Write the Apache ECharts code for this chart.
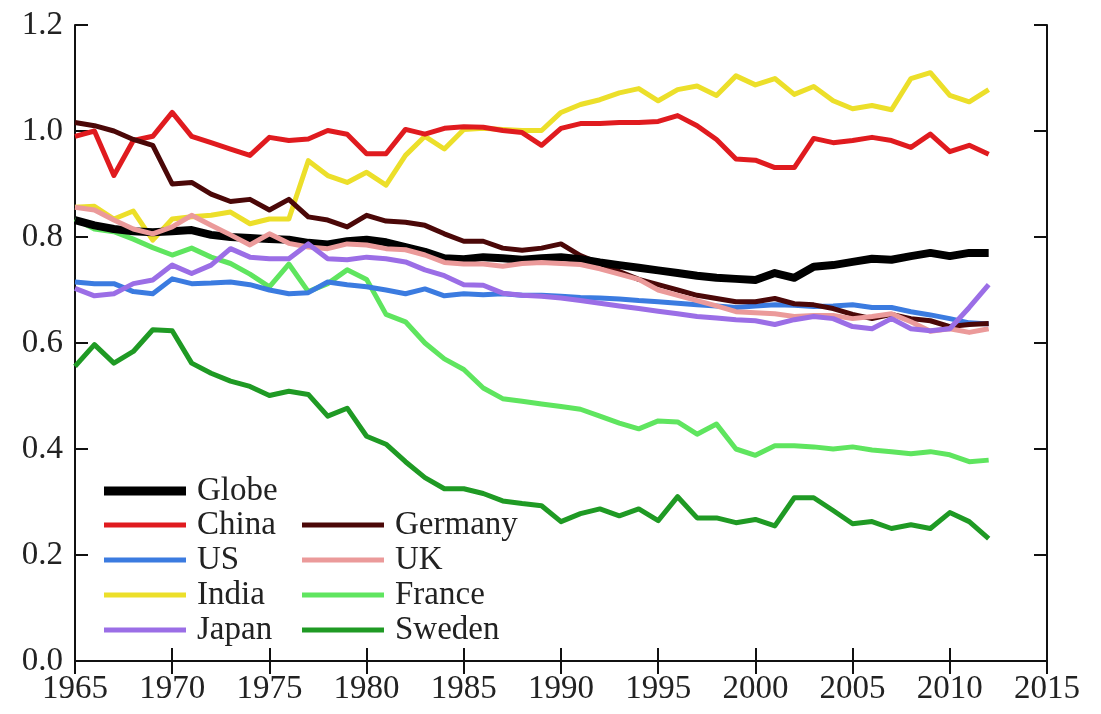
<!DOCTYPE html>
<html>
<head>
<meta charset="utf-8">
<script src="https://cdn.jsdelivr.net/npm/echarts@6/dist/echarts.min.js"></script>
<style>
html,body{margin:0;padding:0;background:#fff;}
#chart{width:1101px;height:714px;}
</style>
</head>
<body>
<div id="chart"></div>
<script>
const years = [1965,1966,1967,1968,1969,1970,1971,1972,1973,1974,1975,1976,1977,1978,1979,1980,1981,1982,1983,1984,1985,1986,1987,1988,1989,1990,1991,1992,1993,1994,1995,1996,1997,1998,1999,2000,2001,2002,2003,2004,2005,2006,2007,2008,2009,2010,2011,2012];

const globe = [0.832,0.822,0.815,0.811,0.809,0.811,0.813,0.804,0.800,0.798,
  0.796,0.795,0.789,0.786,0.792,0.795,0.790,0.781,0.772,0.760,
  0.758,0.762,0.760,0.757,0.760,0.762,0.758,0.752,0.747,0.742,
  0.737,0.732,0.727,0.723,0.721,0.719,0.732,0.723,0.744,0.747,
  0.753,0.759,0.757,0.764,0.770,0.764,0.770,0.770];
const china = [0.990,1.000,0.916,0.982,0.990,1.035,0.990,0.978,0.966,0.954,
  0.988,0.982,0.985,1.001,0.994,0.957,0.957,1.003,0.994,1.005,
  1.008,1.007,1.001,0.997,0.973,1.005,1.014,1.014,1.016,1.016,
  1.018,1.029,1.010,0.984,0.947,0.945,0.931,0.931,0.986,0.978,
  0.982,0.988,0.982,0.969,0.994,0.961,0.973,0.956];
const us = [0.715,0.712,0.712,0.697,0.693,0.721,0.712,0.713,0.715,0.710,
  0.700,0.693,0.695,0.715,0.710,0.706,0.700,0.693,0.702,0.689,
  0.693,0.691,0.693,0.690,0.690,0.688,0.686,0.685,0.683,0.680,
  0.678,0.675,0.672,0.670,0.667,0.670,0.672,0.671,0.669,0.670,
  0.672,0.667,0.667,0.659,0.653,0.646,0.638,0.636];
const india = [0.856,0.858,0.834,0.849,0.794,0.834,0.838,0.841,0.847,0.825,
  0.834,0.834,0.944,0.916,0.903,0.922,0.898,0.954,0.990,0.966,
  1.003,1.005,1.003,1.001,1.001,1.035,1.050,1.059,1.072,1.080,
  1.057,1.078,1.085,1.067,1.104,1.087,1.099,1.069,1.084,1.057,
  1.042,1.048,1.040,1.099,1.110,1.067,1.055,1.078];
const japan = [0.703,0.689,0.693,0.712,0.719,0.747,0.731,0.747,0.778,0.762,
  0.759,0.759,0.787,0.759,0.757,0.762,0.759,0.753,0.738,0.727,
  0.710,0.709,0.694,0.690,0.688,0.685,0.680,0.675,0.670,0.665,
  0.660,0.655,0.650,0.647,0.644,0.642,0.635,0.644,0.650,0.646,
  0.631,0.627,0.646,0.627,0.623,0.627,0.667,0.710];
const germany = [1.016,1.010,1.000,0.984,0.973,0.900,0.903,0.881,0.867,0.871,
  0.851,0.871,0.838,0.832,0.819,0.841,0.830,0.828,0.822,0.806,
  0.792,0.792,0.779,0.775,0.779,0.787,0.765,0.750,0.735,0.720,
  0.710,0.700,0.690,0.684,0.678,0.678,0.684,0.674,0.672,0.665,
  0.654,0.646,0.654,0.646,0.642,0.631,0.635,0.637];
const uk = [0.856,0.851,0.832,0.815,0.806,0.819,0.841,0.822,0.804,0.785,
  0.806,0.788,0.781,0.778,0.787,0.785,0.778,0.776,0.766,0.752,
  0.749,0.749,0.745,0.750,0.752,0.750,0.748,0.740,0.730,0.720,
  0.700,0.690,0.680,0.670,0.659,0.657,0.655,0.650,0.652,0.652,
  0.646,0.650,0.655,0.640,0.622,0.627,0.620,0.627];
const france = [0.834,0.815,0.810,0.796,0.780,0.766,0.779,0.762,0.750,0.730,
  0.706,0.749,0.697,0.712,0.738,0.720,0.654,0.640,0.600,0.570,
  0.550,0.515,0.495,0.490,0.485,0.480,0.475,0.462,0.449,0.438,
  0.453,0.451,0.428,0.447,0.400,0.388,0.406,0.406,0.404,0.400,
  0.404,0.398,0.395,0.391,0.395,0.389,0.376,0.379];
const sweden = [0.556,0.597,0.562,0.584,0.625,0.623,0.562,0.543,0.528,0.518,
  0.501,0.509,0.503,0.462,0.477,0.424,0.409,0.376,0.346,0.325,
  0.325,0.316,0.302,0.297,0.293,0.263,0.278,0.287,0.274,0.287,
  0.265,0.310,0.270,0.270,0.261,0.267,0.255,0.308,0.308,0.284,
  0.259,0.263,0.250,0.257,0.250,0.280,0.263,0.231];

const legendCol0 = ['Globe'];
const legendCol1 = ['China','US','India','Japan'];
const legendCol2 = ['Germany','UK','France','Sweden'];

const FONT = "'Times New Roman', 'Liberation Serif', 'DejaVu Serif', serif";

function pairs(vals){ return years.map((y,i)=>[y, vals[i]]); }

const seriesDefs = [
  {name:'Sweden', data:sweden, color:'#1f9a24', w:5},
  {name:'France', data:france, color:'#5fe55f', w:5},
  {name:'US', data:us, color:'#3b7be0', w:5},
  {name:'India', data:india, color:'#ecdf2a', w:5},
  {name:'China', data:china, color:'#e01b1f', w:5},
  {name:'Germany', data:germany, color:'#4b0808', w:5},
  {name:'Globe', data:globe, color:'#000000', w:8},
  {name:'UK', data:uk, color:'#eb9a9a', w:5},
  {name:'Japan', data:japan, color:'#9b6ee6', w:5}
];

const legendText = {fontFamily: FONT, fontSize: 33, color:'#222', lineHeight: 34, padding:[0,0,0,6]};

const option = {
  animation: false,
  backgroundColor: '#fff',
  textStyle: {fontFamily: FONT},
  grid: {left: 75, right: 54, top: 25, bottom: 53, containLabel: false},
  legend: [
    {data: legendCol0, orient:'vertical', left: 104, top: 474, icon:'rect', itemWidth: 82, itemHeight: 9, itemGap: 0, textStyle: legendText, padding:0},
    {data: legendCol1, orient:'vertical', left: 104, top: 508, icon:'rect', itemWidth: 82, itemHeight: 5, itemGap: 1, textStyle: legendText, padding:0},
    {data: legendCol2, orient:'vertical', left: 302, top: 508, icon:'rect', itemWidth: 82, itemHeight: 5, itemGap: 1, textStyle: legendText, padding:0}
  ],
  xAxis: [
    {type:'value', min:1965, max:2015, interval:5, position:'bottom',
     axisLine:{show:true, lineStyle:{color:'#111', width:2}},
     axisTick:{show:true, inside:true, length:13, lineStyle:{color:'#111', width:2}},
     axisLabel:{fontFamily:FONT, fontSize:33, color:'#222', margin:12, formatter: v => String(v)},
     splitLine:{show:false}},
    {type:'value', min:1965, max:2015, interval:5, position:'top',
     axisLine:{show:true, lineStyle:{color:'#111', width:2}},
     axisTick:{show:true, inside:true, length:13, lineStyle:{color:'#111', width:2}},
     axisLabel:{show:false}, splitLine:{show:false}}
  ],
  yAxis: [
    {type:'value', min:0, max:1.2, interval:0.2, position:'left',
     axisLine:{show:true, lineStyle:{color:'#111', width:2}},
     axisTick:{show:true, inside:true, length:13, lineStyle:{color:'#111', width:2}},
     axisLabel:{fontFamily:FONT, fontSize:33, color:'#222', margin:12, formatter: v => v.toFixed(1)},
     splitLine:{show:false}},
    {type:'value', min:0, max:1.2, interval:0.2, position:'right',
     axisLine:{show:true, lineStyle:{color:'#111', width:2}},
     axisTick:{show:true, inside:true, length:13, lineStyle:{color:'#111', width:2}},
     axisLabel:{show:false}, splitLine:{show:false}}
  ],
  series: seriesDefs.map(s => ({
    name: s.name, type:'line', xAxisIndex:0, yAxisIndex:0,
    data: pairs(s.data), showSymbol:false, symbol:'none', smooth:false,
    color: s.color,
    lineStyle:{color:s.color, width:s.w, join:'round'},
    itemStyle:{color:s.color}
  }))
};

const chart = echarts.init(document.getElementById('chart'), null, {renderer:'canvas'});
chart.setOption(option);
</script>
</body>
</html>
